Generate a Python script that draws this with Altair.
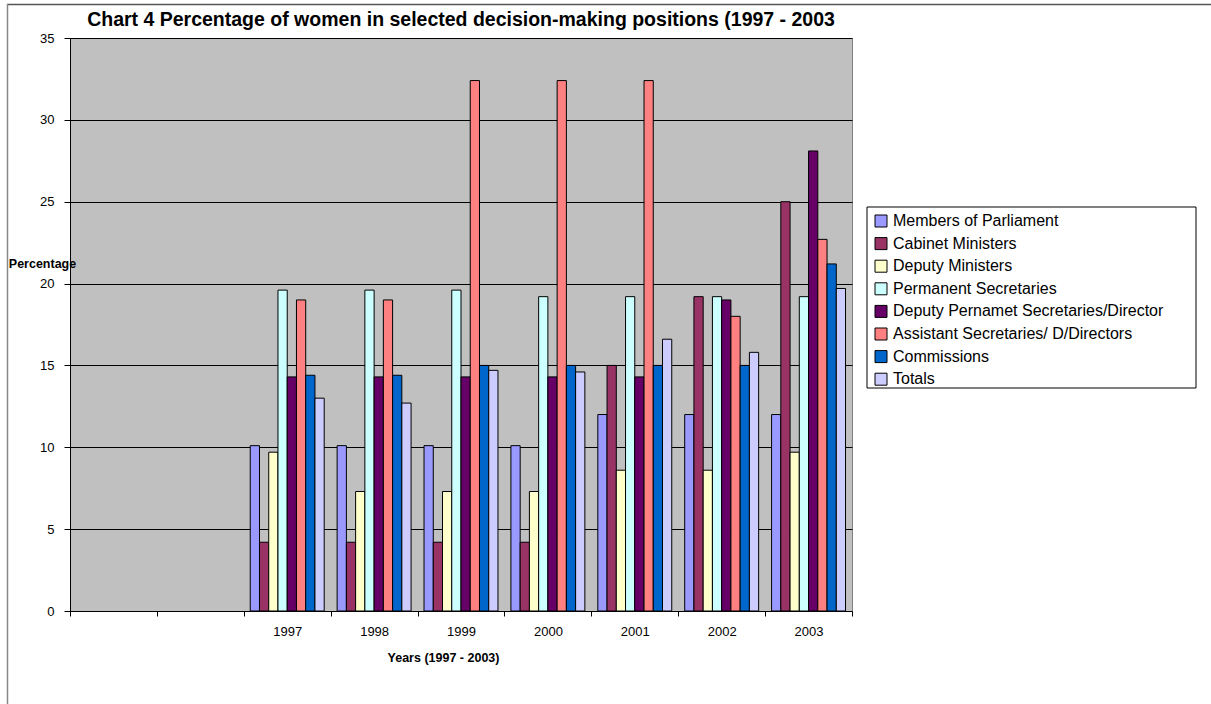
import altair as alt
import pandas as pd

years = ["1997", "1998", "1999", "2000", "2001", "2002", "2003"]
slots = ["_a", "_b"] + years
series = [
    "Members of Parliament",
    "Cabinet Ministers",
    "Deputy Ministers",
    "Permanent Secretaries",
    "Deputy Pernamet Secretaries/Director",
    "Assistant Secretaries/ D/Directors",
    "Commissions",
    "Totals",
]
colors = ["#9999FF", "#993366", "#FFFFCC", "#CCFFFF", "#660066", "#FF8080", "#0066CC", "#CCCCFF"]

mp = [10.1, 10.1, 10.1, 10.1, 12.0, 12.0, 12.0]
cab = [4.2, 4.2, 4.2, 4.2, 15.0, 19.2, 25.0]
dep = [9.7, 7.3, 7.3, 7.3, 8.6, 8.6, 9.7]
ps = [19.6, 19.6, 19.6, 19.2, 19.2, 19.2, 19.2]
dps = [14.3, 14.3, 14.3, 14.3, 14.3, 19.0, 28.1]
asst = [19.0, 19.0, 32.4, 32.4, 32.4, 18.0, 22.7]
comm = [14.4, 14.4, 15.0, 15.0, 15.0, 15.0, 21.2]
tot = [13.0, 12.7, 14.7, 14.6, 16.6, 15.8, 19.7]
y_ticks = [0, 5, 10, 15, 20, 25, 30, 35]

rows = []
for s, vals in zip(series, [mp, cab, dep, ps, dps, asst, comm, tot]):
    for yr, v in zip(years, vals):
        rows.append({"year": yr, "series": s, "value": v})
df = pd.DataFrame(rows)

FONT = "Liberation Sans"

bars = alt.Chart(df).mark_bar(stroke="black", strokeWidth=1).encode(
    x=alt.X(
        "year:N",
        scale=alt.Scale(domain=slots, paddingInner=0, paddingOuter=0),
        axis=alt.Axis(
            title="Years (1997 - 2003)",
            labelAngle=0,
            labelExpr="indexof(datum.label, '_') == 0 ? '' : datum.label",
            tickBand="extent",
            grid=False,
            tickSize=5,
            labelPadding=9,
            labelFontSize=13,
            titleFontSize=12.5,
            titleFontWeight="bold",
            titleX=373,
            titleY=46,
            titleBaseline="middle",
            titleAlign="center",
        ),
    ),
    xOffset=alt.XOffset(
        "series:N",
        scale=alt.Scale(domain=series, paddingInner=0, paddingOuter=0.7),
    ),
    y=alt.Y(
        "value:Q",
        scale=alt.Scale(domain=[0, 35], nice=False),
        axis=alt.Axis(
            values=y_ticks,
            title="Percentage",
            titleAngle=0,
            titleX=-28,
            titleY=225,
            titleAlign="center",
            titleBaseline="middle",
            titleFontSize=12.5,
            titleFontWeight="bold",
            tickSize=6,
            labelPadding=10,
            labelFontSize=13,
            grid=True,
            gridColor="#000000",
            gridWidth=1,
        ),
    ),
    color=alt.Color(
        "series:N",
        scale=alt.Scale(domain=series, range=colors),
        legend=alt.Legend(
            title=None,
            orient="none",
            legendX=803,
            legendY=175,
            symbolType="square",
            symbolSize=144,
            symbolStrokeColor="black",
            symbolStrokeWidth=1,
            symbolOpacity=1,
            labelFontSize=16,
            labelOffset=4,
            rowPadding=6.6,
            padding=0,
            labelLimit=400,
        ),
    ),
)

one = pd.DataFrame({"k": [0]})
legend_box = alt.Chart(one).mark_rect(fill="white", stroke="black", strokeWidth=1).encode(
    x=alt.value(797), x2=alt.value(1126), y=alt.value(169), y2=alt.value(350)
)
top_line = alt.Chart(one).mark_rule(stroke="#555555", strokeWidth=1.5).encode(
    x=alt.value(-63), x2=alt.value(1141), y=alt.value(-33.5)
)
left_line = alt.Chart(one).mark_rule(stroke="#888888", strokeWidth=1.5).encode(
    x=alt.value(-62.5), y=alt.value(-34), y2=alt.value(666)
)

chart = (
    alt.layer(legend_box, bars, top_line, left_line)
    .properties(
        width=782,
        height=573,
        autosize=alt.AutoSizeParams(type="none"),
        padding={"left": 70, "top": 38, "right": 359, "bottom": 93},
        background="white",
        title=alt.TitleParams(
            text="Chart 4 Percentage of women in selected decision-making positions (1997 - 2003",
            fontSize=19.5,
            fontWeight="bold",
            font=FONT,
            anchor="middle",
            frame="group",
            offset=0,
            dy=27,
            color="black",
        ),
    )
    .configure_view(fill="#C0C0C0", stroke="#808080", strokeWidth=1)
    .configure_axis(
        labelFont=FONT,
        titleFont=FONT,
        labelColor="black",
        titleColor="black",
        tickColor="black",
        domainColor="black",
        domainWidth=1,
    )
    .configure_legend(labelFont=FONT, labelColor="black")
)

chart.save("out.html", embed_options={"renderer": "svg", "actions": False})
